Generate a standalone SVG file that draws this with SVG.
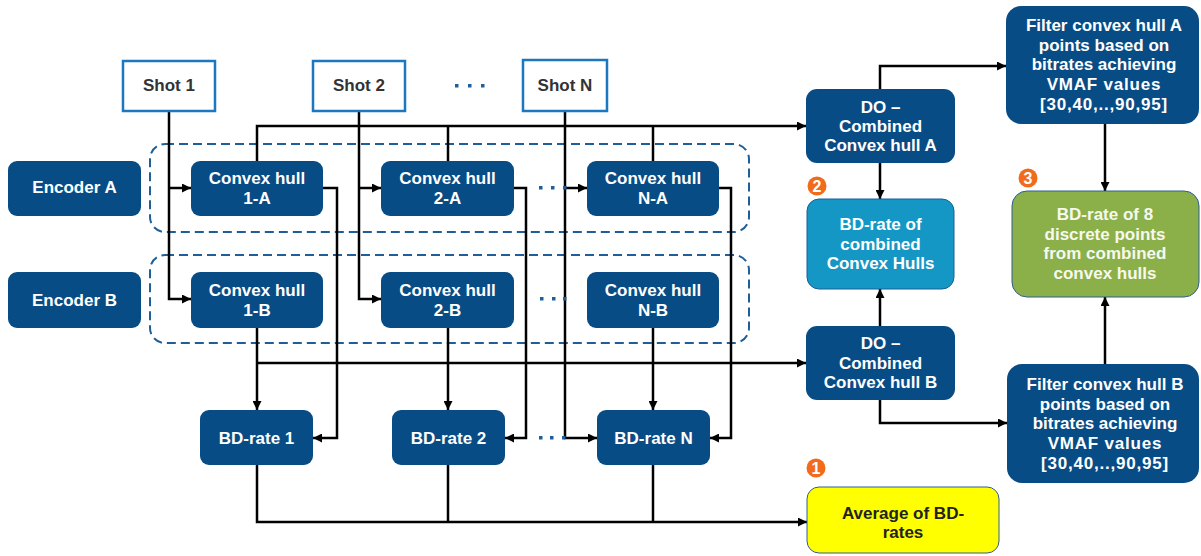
<svg xmlns="http://www.w3.org/2000/svg" width="1201" height="556" viewBox="0 0 1201 556">
  <style>
    text { font-family: "Liberation Sans", Arial, sans-serif; font-weight: bold; font-size: 17px; text-anchor: middle; }
    .wt { fill: #ffffff; }
    .dk { fill: #333333; }
    .sp { letter-spacing: 0.8px; }
    .node { fill: #084c86; }
    .shot { fill: #ffffff; stroke: #1b77c0; stroke-width: 2.5; }
    .group { fill: none; stroke: #1f5f99; stroke-width: 2; stroke-dasharray: 9 5; }
    .wire { fill: none; stroke: #000000; stroke-width: 2.5; }
    .dot { fill: #1f5f99; }
    .badge { fill: #f26b1d; }
    .num { fill: #ffffff; font-size: 16px; }
  </style>
  <defs>
    <marker id="arrow" markerUnits="userSpaceOnUse" markerWidth="10" markerHeight="9" refX="9" refY="4.5" orient="auto">
      <path d="M0,0 L9,4.5 L0,9 z" fill="#000000"/>
    </marker>
  </defs>

  <rect width="1201" height="556" fill="#ffffff"/>

  <!-- dashed groupings of the per-shot hulls -->
  <rect class="group" x="150" y="144" width="599" height="88" rx="15"/>
  <rect class="group" x="150" y="255" width="599" height="88" rx="15"/>

  <!-- connectors -->
  <g id="connectors">
    <!-- shots feed the hulls -->
    <path class="wire" d="M169,111 V299 H191" marker-end="url(#arrow)"/>
    <path class="wire" d="M169,188 H191" marker-end="url(#arrow)"/>
    <path class="wire" d="M359,111 V299 H381" marker-end="url(#arrow)"/>
    <path class="wire" d="M359,188 H381" marker-end="url(#arrow)"/>
    <path class="wire" d="M565,111 V438 H597" marker-end="url(#arrow)"/>
    <path class="wire" d="M565,188 H587" marker-end="url(#arrow)"/>

    <!-- encoder A hulls to combined hull A -->
    <path class="wire" d="M257,161 V126 H806" marker-end="url(#arrow)"/>
    <path class="wire" d="M448,161 V126"/>
    <path class="wire" d="M653,161 V126"/>

    <!-- encoder B hulls to combined hull B and BD-rates -->
    <path class="wire" d="M257,363 H806" marker-end="url(#arrow)"/>
    <path class="wire" d="M257,328 V410" marker-end="url(#arrow)"/>
    <path class="wire" d="M448,328 V410" marker-end="url(#arrow)"/>
    <path class="wire" d="M653,328 V410" marker-end="url(#arrow)"/>

    <!-- encoder A hulls to BD-rates -->
    <path class="wire" d="M323,188 H337 V438 H313" marker-end="url(#arrow)"/>
    <path class="wire" d="M514,188 H526 V438 H505" marker-end="url(#arrow)"/>
    <path class="wire" d="M719,188 H731 V438 H710" marker-end="url(#arrow)"/>

    <!-- BD-rates to average -->
    <path class="wire" d="M257,465 V522 H807" marker-end="url(#arrow)"/>
    <path class="wire" d="M448,465 V522"/>
    <path class="wire" d="M653,465 V522"/>

    <!-- right-hand column -->
    <path class="wire" d="M880,89 V66 H1006" marker-end="url(#arrow)"/>
    <path class="wire" d="M880,163 V199" marker-end="url(#arrow)"/>
    <path class="wire" d="M880,326 V289" marker-end="url(#arrow)"/>
    <path class="wire" d="M880,400 V423 H1007" marker-end="url(#arrow)"/>
    <path class="wire" d="M1105,124 V191" marker-end="url(#arrow)"/>
    <path class="wire" d="M1105,364 V297" marker-end="url(#arrow)"/>
  </g>

  <!-- ellipsis dots -->
  <g id="ellipses">
    <rect class="dot" x="455" y="84" width="3.5" height="3.5"/>
    <rect class="dot" x="468" y="84" width="3.5" height="3.5"/>
    <rect class="dot" x="481" y="84" width="3.5" height="3.5"/>
    <rect class="dot" x="539" y="186" width="3.5" height="3.5"/>
    <rect class="dot" x="551" y="186" width="3.5" height="3.5"/>
    <rect class="dot" x="563" y="186" width="3.5" height="3.5"/>
    <rect class="dot" x="540" y="297" width="3.5" height="3.5"/>
    <rect class="dot" x="552" y="297" width="3.5" height="3.5"/>
    <rect class="dot" x="563" y="297" width="3.5" height="3.5"/>
    <rect class="dot" x="539" y="436" width="3.5" height="3.5"/>
    <rect class="dot" x="550" y="436" width="3.5" height="3.5"/>
    <rect class="dot" x="562" y="436" width="3.5" height="3.5"/>
  </g>

  <!-- shots -->
  <g id="shot1"><rect class="shot" x="123" y="61" width="92" height="50"/><text class="dk" x="169" y="91">Shot 1</text></g>
  <g id="shot2"><rect class="shot" x="313" y="61" width="92" height="50"/><text class="dk" x="359" y="91">Shot 2</text></g>
  <g id="shotN"><rect class="shot" x="523" y="60" width="84" height="51"/><text class="dk" x="565" y="91">Shot N</text></g>

  <!-- encoders -->
  <g id="encoderA"><rect class="node" x="8" y="161" width="133" height="55" rx="9"/><text class="wt" x="74.5" y="193">Encoder A</text></g>
  <g id="encoderB"><rect class="node" x="8" y="272" width="133" height="56" rx="9"/><text class="wt" x="74.5" y="306">Encoder B</text></g>

  <!-- per-shot convex hulls -->
  <g id="hull1A"><rect class="node" x="191" y="161" width="132" height="55" rx="9"/><text class="wt" x="257" y="184">Convex hull</text><text class="wt" x="257" y="204">1-A</text></g>
  <g id="hull2A"><rect class="node" x="381" y="161" width="133" height="55" rx="9"/><text class="wt" x="447.5" y="184">Convex hull</text><text class="wt" x="447.5" y="204">2-A</text></g>
  <g id="hullNA"><rect class="node" x="587" y="161" width="132" height="55" rx="9"/><text class="wt" x="653" y="184">Convex hull</text><text class="wt" x="653" y="204">N-A</text></g>
  <g id="hull1B"><rect class="node" x="191" y="272" width="132" height="56" rx="9"/><text class="wt" x="257" y="296">Convex hull</text><text class="wt" x="257" y="316">1-B</text></g>
  <g id="hull2B"><rect class="node" x="381" y="272" width="133" height="56" rx="9"/><text class="wt" x="447.5" y="296">Convex hull</text><text class="wt" x="447.5" y="316">2-B</text></g>
  <g id="hullNB"><rect class="node" x="587" y="272" width="132" height="56" rx="9"/><text class="wt" x="653" y="296">Convex hull</text><text class="wt" x="653" y="316">N-B</text></g>

  <!-- per-shot BD-rates -->
  <g id="bdrate1"><rect class="node" x="200" y="410" width="113" height="55" rx="9"/><text class="wt" x="256.5" y="444">BD-rate 1</text></g>
  <g id="bdrate2"><rect class="node" x="392" y="410" width="113" height="55" rx="9"/><text class="wt" x="448.5" y="444">BD-rate 2</text></g>
  <g id="bdrateN"><rect class="node" x="597" y="410" width="113" height="55" rx="9"/><text class="wt" x="653.5" y="444">BD-rate N</text></g>

  <!-- dynamic optimizer combined hulls -->
  <g id="doA"><rect class="node" x="806" y="89" width="149" height="74" rx="11"/><text class="wt" x="880.5" y="113">DO –</text><text class="wt" x="880.5" y="132">Combined</text><text class="wt" x="880.5" y="151">Convex hull A</text></g>
  <g id="doB"><rect class="node" x="806" y="326" width="149" height="74" rx="11"/><text class="wt" x="880.5" y="349">DO –</text><text class="wt" x="880.5" y="369">Combined</text><text class="wt" x="880.5" y="388">Convex hull B</text></g>

  <g id="bdCombined"><rect x="807" y="199" width="147" height="90" rx="12" fill="#1497c4" stroke="#1b5f96" stroke-width="1"/><text class="wt" x="880.5" y="230">BD-rate of</text><text class="wt" x="880.5" y="250">combined</text><text class="wt" x="880.5" y="269">Convex Hulls</text></g>

  <!-- VMAF filtering -->
  <g id="filterA"><rect class="node" x="1006" y="6" width="193" height="118" rx="15"/><text class="wt" x="1104" y="31">Filter convex hull A</text><text class="wt" x="1104" y="51">points based on</text><text class="wt" x="1104" y="70">bitrates achieving</text><text class="wt sp" x="1104" y="90">VMAF values</text><text class="wt sp" x="1104" y="110">[30,40,..,90,95]</text></g>
  <g id="filterB"><rect class="node" x="1007" y="364" width="192" height="119" rx="15"/><text class="wt" x="1105" y="390">Filter convex hull B</text><text class="wt" x="1105" y="410">points based on</text><text class="wt" x="1105" y="429">bitrates achieving</text><text class="wt sp" x="1105" y="449">VMAF values</text><text class="wt sp" x="1105" y="469">[30,40,..,90,95]</text></g>

  <g id="bdDiscrete"><rect x="1012" y="191" width="187" height="106" rx="15" fill="#8bb04a" stroke="#2f5f8f" stroke-width="1"/><text x="1105" y="220" fill="#f6f9ee">BD-rate of 8</text><text x="1105" y="240" fill="#f6f9ee">discrete points</text><text x="1105" y="259" fill="#f6f9ee">from combined</text><text x="1105" y="279" fill="#f6f9ee">convex hulls</text></g>

  <g id="average"><rect x="807" y="487" width="192" height="66" rx="12" fill="#ffff00" stroke="#2f5f8f" stroke-width="1"/><text x="903" y="519" fill="#222222">Average of BD-</text><text x="903" y="538" fill="#222222">rates</text></g>

  <!-- numbered badges -->
  <g id="badge1"><circle class="badge" cx="816" cy="468" r="9.5"/><text class="num" x="816" y="474">1</text></g>
  <g id="badge2"><circle class="badge" cx="817" cy="186" r="9.5"/><text class="num" x="817" y="192">2</text></g>
  <g id="badge3"><circle class="badge" cx="1028" cy="178" r="9.5"/><text class="num" x="1028" y="184">3</text></g>
</svg>
